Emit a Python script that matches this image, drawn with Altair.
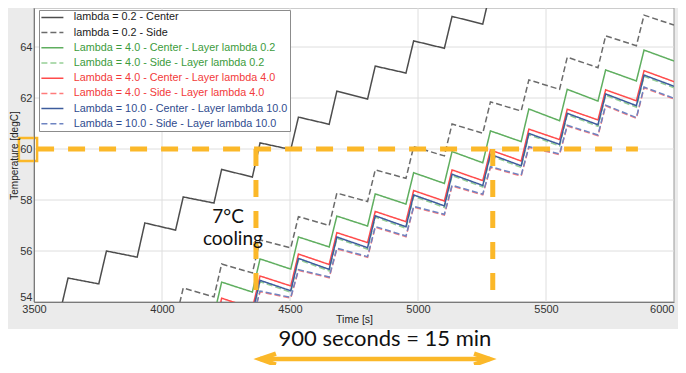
import altair as alt
import pandas as pd

N = None

SERIES = [
    "lambda = 0.2 - Center",
    "lambda = 0.2 - Side",
    "Lambda = 4.0 - Center - Layer lambda 0.2",
    "Lambda = 4.0 - Side - Layer lambda 0.2",
    "Lambda = 4.0 - Center - Layer lambda 4.0",
    "Lambda = 4.0 - Side - Layer lambda 4.0",
    "Lambda = 10.0 - Center - Layer lambda 10.0",
    "Lambda = 10.0 - Side - Layer lambda 10.0",
]
LINE_COLORS = ["#4d4d4d", "#6b6b6b", "#5fae5f", "#96d096",
               "#ff4b4b", "#ff7b7b", "#3d5c9c", "#6e84c2"]
LABEL_COLORS = ["#1a1a1a", "#1a1a1a", "#3c9b3c", "#3c9b3c",
                "#f23a3a", "#f23a3a", "#2f4b8e", "#2f4b8e"]
DASHES = [[1, 0], [6, 3], [1, 0], [6, 3], [1, 0], [6, 3], [1, 0], [6, 3]]

# heating pulses: start (trough) and end (peak) times [s]
HEAT_START = [3603, 3753, 3903, 4053, 4203, 4353, 4503, 4653,
              4803, 4953, 5103, 5253, 5403, 5553, 5703, 5853]
HEAT_END = [3633, 3783, 3933, 4083, 4233, 4383, 4533, 4683,
            4833, 4983, 5133, 5283, 5433, 5583, 5733, 5883]
END_TIME = 6000

C02_LOW = [53.65, 54.71, 55.76, 56.82, 57.88, 58.90, 59.98, 60.97,
           61.96, 62.98, 63.95, 64.90, N, N, N, N]
C02_HIGH = [54.94, 56.00, 57.10, 58.12, 59.20, 60.24, 61.25, 62.27,
            63.25, 64.24, 65.20, 66.20, N, N, N, N]
C02_END = N

S02_LOW = [N, N, N, 53.28, 54.20, 55.14, 56.12, 57.00,
           57.94, 58.85, 59.73, 60.62, 61.49, 62.34, 63.19, 64.05]
S02_HIGH = [N, N, N, 54.55, 55.49, 56.43, 57.35, 58.27,
            59.18, 60.09, 60.98, 61.85, 62.71, 63.60, 64.44, 65.25]
S02_END = 64.86

C40A_LOW = [N, N, N, N, 53.48, 54.39, 55.29, 56.16,
            56.98, 57.84, 58.65, 59.46, 60.29, 61.11, 61.88, 62.67]
C40A_HIGH = [N, N, N, N, 54.78, 55.69, 56.55, 57.37,
             58.24, 59.07, 59.90, 60.71, 61.57, 62.34, 63.10, 63.88]
C40A_END = 63.45

S40A_LOW = [N, N, N, N, 52.62, 53.50, 54.38, 55.22,
            56.07, 56.89, 57.71, 58.51, 59.28, 60.12, 60.89, 61.64]
S40A_HIGH = [N, N, N, N, 53.93, 54.80, 55.66, 56.50,
             57.33, 58.15, 58.96, 59.74, 60.56, 61.35, 62.11, 62.85]
S40A_END = 62.40

C40B_LOW = [N, N, N, N, 52.85, 53.75, 54.63, 55.47,
            56.33, 57.15, 57.96, 58.76, 59.53, 60.37, 61.14, 61.89]
C40B_HIGH = [N, N, N, N, 54.15, 55.02, 55.88, 56.72,
             57.55, 58.37, 59.18, 59.96, 60.78, 61.56, 62.32, 63.07]
C40B_END = 62.64

S40B_LOW = [N, N, N, N, 52.30, 53.30, 54.15, 54.95,
            55.75, 56.56, 57.41, 58.20, 58.94, 59.78, 60.52, 61.20]
S40B_HIGH = [N, N, N, N, 53.55, 54.40, 55.24, 56.08,
             56.93, 57.72, 58.55, 59.28, 60.06, 60.90, 61.69, 62.40]
S40B_END = 61.96

C10_LOW = [N, N, N, N, 52.67, 53.56, 54.44, 55.28,
           56.13, 56.95, 57.77, 58.57, 59.34, 60.18, 60.95, 61.70]
C10_HIGH = [N, N, N, N, 53.98, 54.85, 55.71, 56.55,
            57.38, 58.20, 59.01, 59.79, 60.61, 61.40, 62.16, 62.90]
C10_END = 62.46

S10_LOW = [N, N, N, N, 52.33, 53.33, 54.18, 54.98,
           55.78, 56.59, 57.44, 58.23, 58.97, 59.81, 60.55, 61.23]
S10_HIGH = [N, N, N, N, 53.58, 54.43, 55.27, 56.11,
            56.96, 57.75, 58.58, 59.31, 60.09, 60.93, 61.72, 62.43]
S10_END = 61.99

X_DOMAIN = [3500, 6000]
Y_DOMAIN = [54, 65.53]
X_TICKS = [3500, 4000, 4500, 5000, 5500, 6000]
Y_TICKS = [54, 56, 58, 60, 62, 64]
X_GRID = [4000, 4500, 5000, 5500]
Y_GRID = [56, 58, 60, 62, 64]

# annotations (data coordinates)
REF_TEMP = 60
REF_T0, REF_T1 = 3512, 5859
COOL_T0, COOL_T1 = 4367, 5292
COOL_V1_END = 54.0
COOL_V2_END = 54.31
BOX_T = [3441, 3512]
BOX_V = [59.53, 60.43]
ARROW_T = [4383, 5281]
ARROW_V = 51.76
HEAD_DT = 62
HEAD_DV = 0.22
NOTE_TEXT = ["7°C", "cooling"]
NOTE_T = [4258, 4277]
NOTE_V = [57.1, 56.25]
SPAN_TEXT = "900 seconds = 15 min"
SPAN_T = 4871
SPAN_V = 52.27

ORANGE = "#FBB829"
W, H = 640, 294

series_data = [
    (C02_LOW, C02_HIGH, C02_END), (S02_LOW, S02_HIGH, S02_END),
    (C40A_LOW, C40A_HIGH, C40A_END), (S40A_LOW, S40A_HIGH, S40A_END),
    (C40B_LOW, C40B_HIGH, C40B_END), (S40B_LOW, S40B_HIGH, S40B_END),
    (C10_LOW, C10_HIGH, C10_END), (S10_LOW, S10_HIGH, S10_END),
]
rows = []
for name, (lows, highs, end) in zip(SERIES, series_data):
    i = 0
    for k in range(len(HEAT_START)):
        if lows[k] is not None:
            rows.append({"series": name, "t": HEAT_START[k], "v": lows[k], "i": i}); i += 1
        if highs[k] is not None:
            rows.append({"series": name, "t": HEAT_END[k], "v": highs[k], "i": i}); i += 1
    if end is not None:
        rows.append({"series": name, "t": END_TIME, "v": end, "i": i})
df = pd.DataFrame(rows)

xs = alt.Scale(domain=X_DOMAIN, nice=False, zero=False)
ys = alt.Scale(domain=Y_DOMAIN, nice=False, zero=False)

label_expr = ("[" + ",".join("'%s'" % c for c in LABEL_COLORS) + "][indexof(["
              + ",".join("'%s'" % s for s in SERIES) + "], datum.label)]")
legend = alt.Legend(
    title=None, orient="none", legendX=5, legendY=2,
    fillColor="white", strokeColor="#8c8c8c", padding=2,
    symbolType="M-2.75,0H2.75", symbolSize=64, symbolStrokeWidth=1.5,
    symbolOffset=6,
    labelFont="Liberation Sans", labelFontSize=10.8, labelOffset=16,
    rowPadding=3.2, labelLimit=400,
    labelColor=alt.ExprRef(expr=label_expr),
)

bg = alt.Chart(pd.DataFrame({"d": [0]})).mark_rect(color="#ebebeb").encode(
    x=alt.value(-40), x2=alt.value(W + 40), y=alt.value(-10), y2=alt.value(321))

plot_bg = alt.Chart(pd.DataFrame({"t0": [X_DOMAIN[0]], "t1": [X_DOMAIN[1]],
                                  "v0": [Y_DOMAIN[0]], "v1": [Y_DOMAIN[1]]})).mark_rect(
    fill="white", stroke="#9a9a9a", strokeWidth=1).encode(
    x=alt.X("t0:Q", scale=xs), x2="t1:Q", y=alt.Y("v0:Q", scale=ys), y2="v1:Q")

grid_x = alt.Chart(pd.DataFrame({"t": X_GRID})).mark_rule(color="#dedede", strokeWidth=1).encode(
    x=alt.X("t:Q", scale=xs))
grid_y = alt.Chart(pd.DataFrame({"v": Y_GRID})).mark_rule(color="#dedede", strokeWidth=1).encode(
    y=alt.Y("v:Q", scale=ys))

lines = alt.Chart(df).mark_line(clip=True, strokeWidth=1.5).encode(
    x=alt.X("t:Q", scale=xs, title="Time [s]",
            axis=alt.Axis(values=X_TICKS, format="d", grid=False, ticks=False,
                          labelFlush=False, domainColor="#7a7a7a", zindex=1,
                          labelAlign={"condition": {"test": "datum.value >= 6000", "value": "right"},
                                      "value": "center"},
                          labelFont="Liberation Sans", labelFontSize=11, labelColor="#333",
                          labelPadding=1, titleFont="Liberation Sans", titleFontSize=10.5,
                          titleFontWeight="normal", titleColor="#222", titlePadding=0)),
    y=alt.Y("v:Q", scale=ys, title="Temperature [degC]",
            axis=alt.Axis(values=Y_TICKS, grid=False, ticks=False, domainColor="#7a7a7a",
                          labelFlush=True,
                          zindex=1, labelFont="Liberation Sans", labelFontSize=11,
                          labelColor="#333", labelPadding=2, titleFont="Liberation Sans",
                          titleFontSize=10, titleFontWeight="normal", titleColor="#222",
                          titlePadding=0)),
    color=alt.Color("series:N", scale=alt.Scale(domain=SERIES, range=LINE_COLORS),
                    legend=legend, sort=SERIES),
    strokeDash=alt.StrokeDash("series:N", scale=alt.Scale(domain=SERIES, range=DASHES),
                              legend=legend, sort=SERIES),
    order="i:Q",
)

ref_line = alt.Chart(pd.DataFrame({"t0": [REF_T0], "t1": [REF_T1], "v": [REF_TEMP]})).mark_rule(
    color=ORANGE, strokeWidth=5, strokeDash=[17, 14]).encode(
    x=alt.X("t0:Q", scale=xs), x2="t1:Q", y=alt.Y("v:Q", scale=ys))
cool_lines = alt.Chart(pd.DataFrame({"t": [COOL_T0, COOL_T1], "v0": [REF_TEMP, REF_TEMP],
                                     "v1": [COOL_V1_END, COOL_V2_END]})).mark_rule(
    color=ORANGE, strokeWidth=5, strokeDash=[17, 14]).encode(
    x=alt.X("t:Q", scale=xs), y=alt.Y("v0:Q", scale=ys), y2="v1:Q")
box = alt.Chart(pd.DataFrame({"t0": [BOX_T[0]], "t1": [BOX_T[1]],
                              "v0": [BOX_V[0]], "v1": [BOX_V[1]]})).mark_rect(
    fillOpacity=0, stroke=ORANGE, strokeWidth=2.5).encode(
    x=alt.X("t0:Q", scale=xs), x2="t1:Q", y=alt.Y("v0:Q", scale=ys), y2="v1:Q")

arrow_rows = [
    {"p": "shaft", "i": 0, "t": ARROW_T[0], "v": ARROW_V},
    {"p": "shaft", "i": 1, "t": ARROW_T[1], "v": ARROW_V},
    {"p": "left", "i": 0, "t": ARROW_T[0] + HEAD_DT, "v": ARROW_V + HEAD_DV},
    {"p": "left", "i": 1, "t": ARROW_T[0], "v": ARROW_V},
    {"p": "left", "i": 2, "t": ARROW_T[0] + HEAD_DT, "v": ARROW_V - HEAD_DV},
    {"p": "right", "i": 0, "t": ARROW_T[1] - HEAD_DT, "v": ARROW_V + HEAD_DV},
    {"p": "right", "i": 1, "t": ARROW_T[1], "v": ARROW_V},
    {"p": "right", "i": 2, "t": ARROW_T[1] - HEAD_DT, "v": ARROW_V - HEAD_DV},
]
arrow = alt.Chart(pd.DataFrame(arrow_rows)).mark_line(
    color=ORANGE, strokeWidth=4.5, strokeJoin="miter", clip=False).encode(
    x=alt.X("t:Q", scale=xs), y=alt.Y("v:Q", scale=ys), detail="p:N", order="i:Q")

note = alt.Chart(pd.DataFrame({"txt": NOTE_TEXT, "t": NOTE_T, "v": NOTE_V})).mark_text(
    font="Lato", fontSize=19, color="#111", align="center", baseline="alphabetic").encode(
    x=alt.X("t:Q", scale=xs), y=alt.Y("v:Q", scale=ys), text="txt:N")
span = alt.Chart(pd.DataFrame({"txt": [SPAN_TEXT], "t": [SPAN_T], "v": [SPAN_V]})).mark_text(
    font="Lato", fontSize=22, color="#111", align="center", baseline="alphabetic").encode(
    x=alt.X("t:Q", scale=xs), y=alt.Y("v:Q", scale=ys), text="txt:N")

chart = alt.layer(bg, plot_bg, grid_x, grid_y, lines, ref_line, cool_lines, box,
                  note, arrow, span).properties(
    width=W, height=H,
    autosize=alt.AutoSizeParams(type="none"),
    padding={"left": 26, "top": 0, "right": 4, "bottom": 63},
    background="white",
).configure_view(stroke=None)

chart.save("out.html", embed_options={"renderer": "svg", "actions": False})
